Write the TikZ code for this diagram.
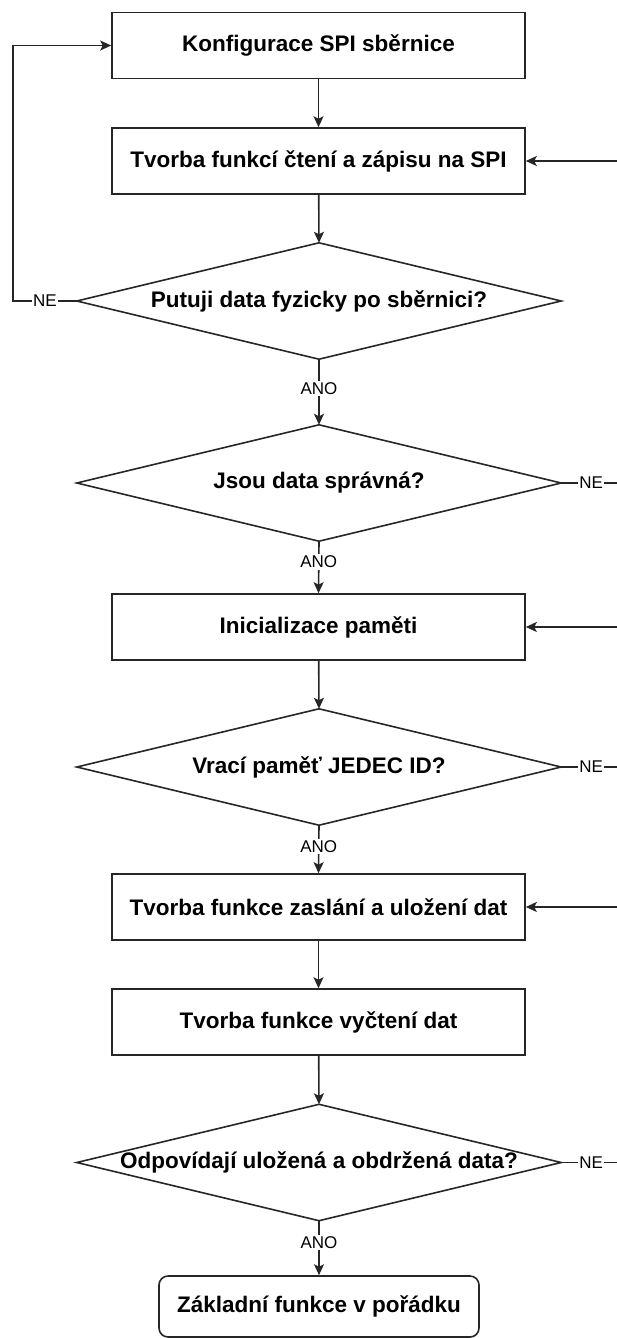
\documentclass[tikz,border=0pt]{standalone}
\usepackage{fontspec}
\setmainfont{Liberation Sans}
\usetikzlibrary{arrows.meta}
\begin{document}
\begin{tikzpicture}[x=1pt,y=-1pt,
  line/.style={draw=black!85, line width=1.6pt},
  flow/.style={line, -{Stealth[length=11pt,width=10pt,inset=2.5pt]}},
  txt/.style={font=\fontsize{22.5}{26}\selectfont\bfseries, text=black},
  stepbox/.style={line, txt, rectangle, minimum width=413pt, minimum height=66pt, inner sep=0pt},
  decision/.style={txt, rectangle, minimum width=484pt, minimum height=116pt, inner sep=0pt},
  endbox/.style={line, txt, rectangle, rounded corners=9pt, minimum width=320pt, minimum height=61pt, inner sep=0pt},
  lbl/.style={fill=white, inner sep=1.5pt, font=\fontsize{17}{20}\selectfont, text=black}
]
\useasboundingbox (0,0) rectangle (617,1338);
\clip (0,0) rectangle (617,1338);

% process steps and decisions
\node[stepbox]  (s1) at (318.5,45.5)  {Konfigurace SPI sběrnice};
\node[stepbox]  (s2) at (318.5,161)   {Tvorba funkcí čtení a zápisu na SPI};
\node[decision] (d1) at (319,301)     {Putuji data fyzicky po sběrnici?};
\node[decision] (d2) at (319,483)     {Jsou data správná?};
\node[stepbox]  (s3) at (318.5,627)   {Inicializace paměti};
\node[decision] (d3) at (319,767)     {Vrací paměť JEDEC ID?};
\node[stepbox]  (s4) at (318.5,907)   {Tvorba funkce zaslání a uložení dat};
\node[stepbox]  (s5) at (318.5,1022)  {Tvorba funkce vyčtení dat};
\node[decision] (d4) at (319,1162.5)  {Odpovídají uložená a obdržená data?};
\node[endbox]   (e)  at (319,1306.5)  {Základní funkce v pořádku};

% diamond outlines
\foreach \d in {d1,d2,d3,d4}
  \draw[line] (\d.north) -- (\d.east) -- (\d.south) -- (\d.west) -- cycle;

% return rails
\coordinate (railL) at (13,301);
\coordinate (railR) at (621,0);

% main flow
\draw[flow] (s1) -- (s2);
\draw[flow] (s2) -- (d1.north);
\draw[flow] (d1.south) -- node[lbl, pos=0.45] {ANO} (d2.north);
\draw[flow] (d2.south) -- node[lbl, pos=0.4] {ANO} (s3.north);
\draw[flow] (s3) -- (d3.north);
\draw[flow] (d3.south) -- node[lbl, pos=0.45] {ANO} (s4.north);
\draw[flow] (s4) -- (s5);
\draw[flow] (s5) -- (d4.north);
\draw[flow] (d4.south) -- node[lbl, pos=0.4] {ANO} (e.north);

% "NE" branches
\draw[flow] (d1.west) -- node[lbl] {NE} (railL) |- (s1.west);
\draw[flow] (d2.east) -- node[lbl] {NE} (d2.east -| railR) |- (s2.east);
\draw[flow] (d3.east) -- node[lbl] {NE} (d3.east -| railR) |- (s3.east);
\draw[flow] (d4.east) -- node[lbl] {NE} (d4.east -| railR) |- (s4.east);
\end{tikzpicture}
\end{document}
